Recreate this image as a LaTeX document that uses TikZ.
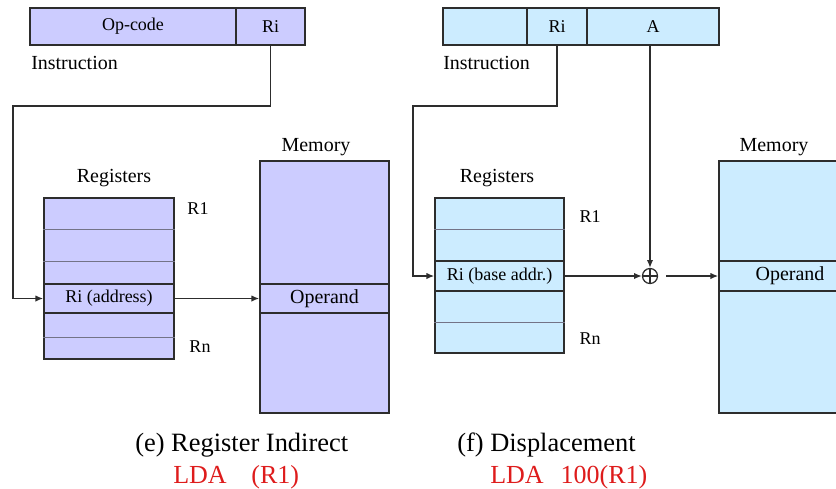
\documentclass[tikz,border=0pt]{standalone}
\usepackage{fontspec}
\setmainfont{Liberation Serif}
\usetikzlibrary{arrows.meta,calc}
\definecolor{regpurple}{RGB}{204,204,255}
\definecolor{regblue}{RGB}{204,236,255}
\definecolor{boxline}{RGB}{45,45,45}
\definecolor{sepgray}{RGB}{115,115,135}
\definecolor{ldared}{RGB}{222,28,28}

\tikzset{
  cell/.style 2 args={draw=boxline, line width=1.1pt, inner sep=0pt,
    minimum width=#1*0.025cm, minimum height=#2*0.025cm},
  small/.style={font=\fontsize{12.8}{15}\selectfont},
  mid/.style={font=\fontsize{14.2}{17}\selectfont},
  captxt/.style={font=\fontsize{18.8}{22}\selectfont, anchor=west, inner sep=0pt},
  ldatxt/.style={font=\fontsize{18.5}{22}\selectfont, text=ldared, anchor=west, inner sep=0pt},
  link/.style={draw=boxline, line width=1pt, -{Latex[length=5.5pt,width=4.5pt]}},
  regsep/.style={draw=sepgray, line width=0.6pt},
  adder/.style={circle, draw=boxline, line width=0.9pt, inner sep=0pt,
    minimum size=15*0.025cm,
    path picture={\draw[boxline, line width=0.8pt]
      (path picture bounding box.north) -- (path picture bounding box.south)
      (path picture bounding box.west) -- (path picture bounding box.east);}}
}

\begin{document}
\begin{tikzpicture}[x=0.025cm, y=-0.025cm]
  \clip (0,0) rectangle (836,488);
  % --- (e) register indirect: instruction word ---
  \node[cell={206}{37}, fill=regpurple, small] (opL) at (133,26.5) {Op-code};
  \node[cell={69}{37}, fill=regpurple, small] (riL) at (270.5,26.5) {Ri};
  \node[mid, anchor=west, inner sep=0pt] (instL) at (31,63) {Instruction};
  % --- registers (left) ---
  \node[mid] (regsL) at (114,178) {Registers};
  \node[cell={130}{161}, fill=regpurple] (regL) at (109,278.5) {};
  \foreach \y in {229,261,337}
    \draw[regsep] (regL.west |- 0,\y) -- (regL.east |- 0,\y);
  \node[cell={130}{29}, fill=regpurple, small] (addrL) at (109,298.5) {Ri (address)};
  \node[small] (r1L) at (198,209) {R1};
  \node[small] (rnL) at (200,347) {Rn};
  % --- memory (left) ---
  \node[mid] (memtL) at (316,147) {Memory};
  \node[cell={129}{252}, fill=regpurple] (memL) at (324.5,287) {};
  \node[cell={129}{29}, fill=regpurple, mid] (opdL) at (324.5,298.5) {Operand};
  % --- connectors (left) ---
  \coordinate (bendL) at (13,106);
  \draw[link] (riL.south) |- (bendL) |- (addrL.west);
  \draw[link] (addrL) -- (opdL);

  % --- (f) displacement: instruction word ---
  \node[cell={84}{37}, fill=regblue] (f1R) at (485,26.5) {};
  \node[cell={60}{37}, fill=regblue, small] (riR) at (557,26.5) {Ri};
  \node[cell={132}{37}, fill=regblue, small] (aR) at (653,26.5) {A};
  \node[mid, anchor=west, inner sep=0pt] (instR) at (443,63) {Instruction};
  % --- registers (right) ---
  \node[mid] (regsR) at (497,178) {Registers};
  \node[cell={129}{155}, fill=regblue] (regR) at (499.5,275.5) {};
  \foreach \y in {229,322}
    \draw[regsep] (regR.west |- 0,\y) -- (regR.east |- 0,\y);
  \node[cell={129}{30}, fill=regblue, small] (addrR) at (499.5,276) {Ri (base addr.)};
  \node[small] (r1R) at (590,217) {R1};
  \node[small] (rnR) at (590,339) {Rn};
  % --- adder and memory (right) ---
  \node[adder] (sum) at (650,276) {};
  \node[mid] (memtR) at (774,147) {Memory};
  \node[cell={142}{252}, fill=regblue] (memR) at (790,287) {};
  \node[cell={142}{30}, fill=regblue, mid] (opdR) at (790,276) {Operand};
  % --- connectors (right) ---
  \coordinate (bendR) at (413,106);
  \draw[link] (riR.south) |- (bendR) |- (addrR.west);
  \draw[link] (aR.south -| sum.north) -- (sum.north);
  \draw[link] (addrR) -- (sum);
  \draw[link, shorten <=5.7pt] (sum) -- (opdR);

  % --- captions ---
  \node[captxt] (capE) at (135,445) {(e) Register Indirect};
  \node[ldatxt] (codeE) at (173,477) {LDA\hspace{0.95em}(R1)};
  \node[captxt] (capF) at (457,445) {(f) Displacement};
  \node[ldatxt] (codeF) at (490,477) {LDA\hspace{0.65em}100(R1)};
\end{tikzpicture}
\end{document}
